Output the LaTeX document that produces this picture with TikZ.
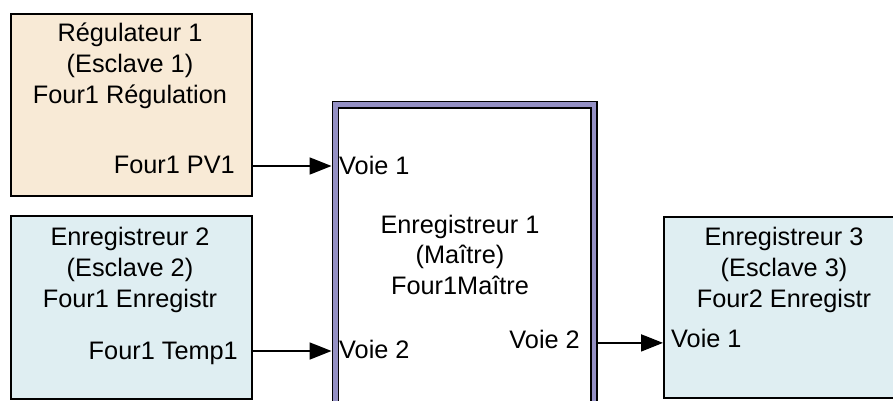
\documentclass[tikz,border=0pt]{standalone}
\usepackage{fontspec}
\setmainfont{Liberation Sans}
\usetikzlibrary{arrows.meta,calc}
\definecolor{beige}{HTML}{F8EAD6}
\definecolor{lblue}{HTML}{DFEEF2}
\definecolor{purp}{HTML}{9490C4}
\begin{document}
\begin{tikzpicture}[x=1pt,y=-1pt,
  blk/.style={draw=black,line width=1.8pt,rectangle,anchor=north west,inner sep=0pt},
  txt/.style={font=\fontsize{25.3}{30}\selectfont,inner sep=0pt,anchor=base},
  txtr/.style={txt,anchor=base east},
  txtl/.style={txt,anchor=base west},
  arr/.style={line width=1.8pt,-{Triangle[length=22pt,width=17pt]}}]
\useasboundingbox (0,0) rectangle (893,401);
% blocks
\node[blk,fill=beige,minimum width=241,minimum height=182] (b1) at (10,13) {};
\node[blk,fill=lblue,minimum width=241,minimum height=183] (b2) at (10,215) {};
\node[blk,fill=lblue,minimum width=242,minimum height=181] (b3) at (663,216) {};
\node[draw=black,double=purp,line width=1.5pt,double distance=4.8pt,fill=white,
      rectangle,anchor=north west,inner sep=0pt,outer sep=3.9pt,
      minimum width=258.5,minimum height=302] (m) at (331.5,101) {};
% texts block 1
\node[txt] (t1a) at (130,42) {Régulateur 1};
\node[txt] (t1b) at (130,73) {(Esclave 1)};
\node[txt] (t1c) at (130,104) {Four1 Régulation};
\node[txtr] (pv1) at (235,173) {Four1 PV1};
% texts block 2
\node[txt] (t2a) at (130,245) {Enregistreur 2};
\node[txt] (t2b) at (130,276) {(Esclave 2)};
\node[txt] (t2c) at (130,307) {Four1 Enregistr};
\node[txtr] (tp1) at (238,359) {Four1 Temp1};
% master
\node[txt] (tma) at (460,233) {Enregistreur 1};
\node[txt] (tmb) at (460,263) {(Maître)};
\node[txt] (tmc) at (460,294) {Four1Maître};
\node[txtl] (mv1) at (339,174) {Voie 1};
\node[txtl] (mv2) at (339,358) {Voie 2};
\node[txtr] (mo2) at (580,348) {Voie 2};
% block 3
\node[txt] (t3a) at (784,245) {Enregistreur 3};
\node[txt] (t3b) at (784,276) {(Esclave 3)};
\node[txt] (t3c) at (784,307) {Four2 Enregistr};
\node[txtl] (bv1) at (671,347) {Voie 1};
% connectors
\coordinate (s1) at ($(b1.north east)+(0,153)$);
\coordinate (s2) at ($(b2.north east)+(0,136)$);
\coordinate (s3) at ($(m.north east)+(0,241.9)$);
\draw[arr] (s1) -- (s1 -| m.west);
\draw[arr] (s2) -- (s2 -| m.west);
\draw[arr] (s3) -- (s3 -| b3.west);
\end{tikzpicture}
\end{document}
